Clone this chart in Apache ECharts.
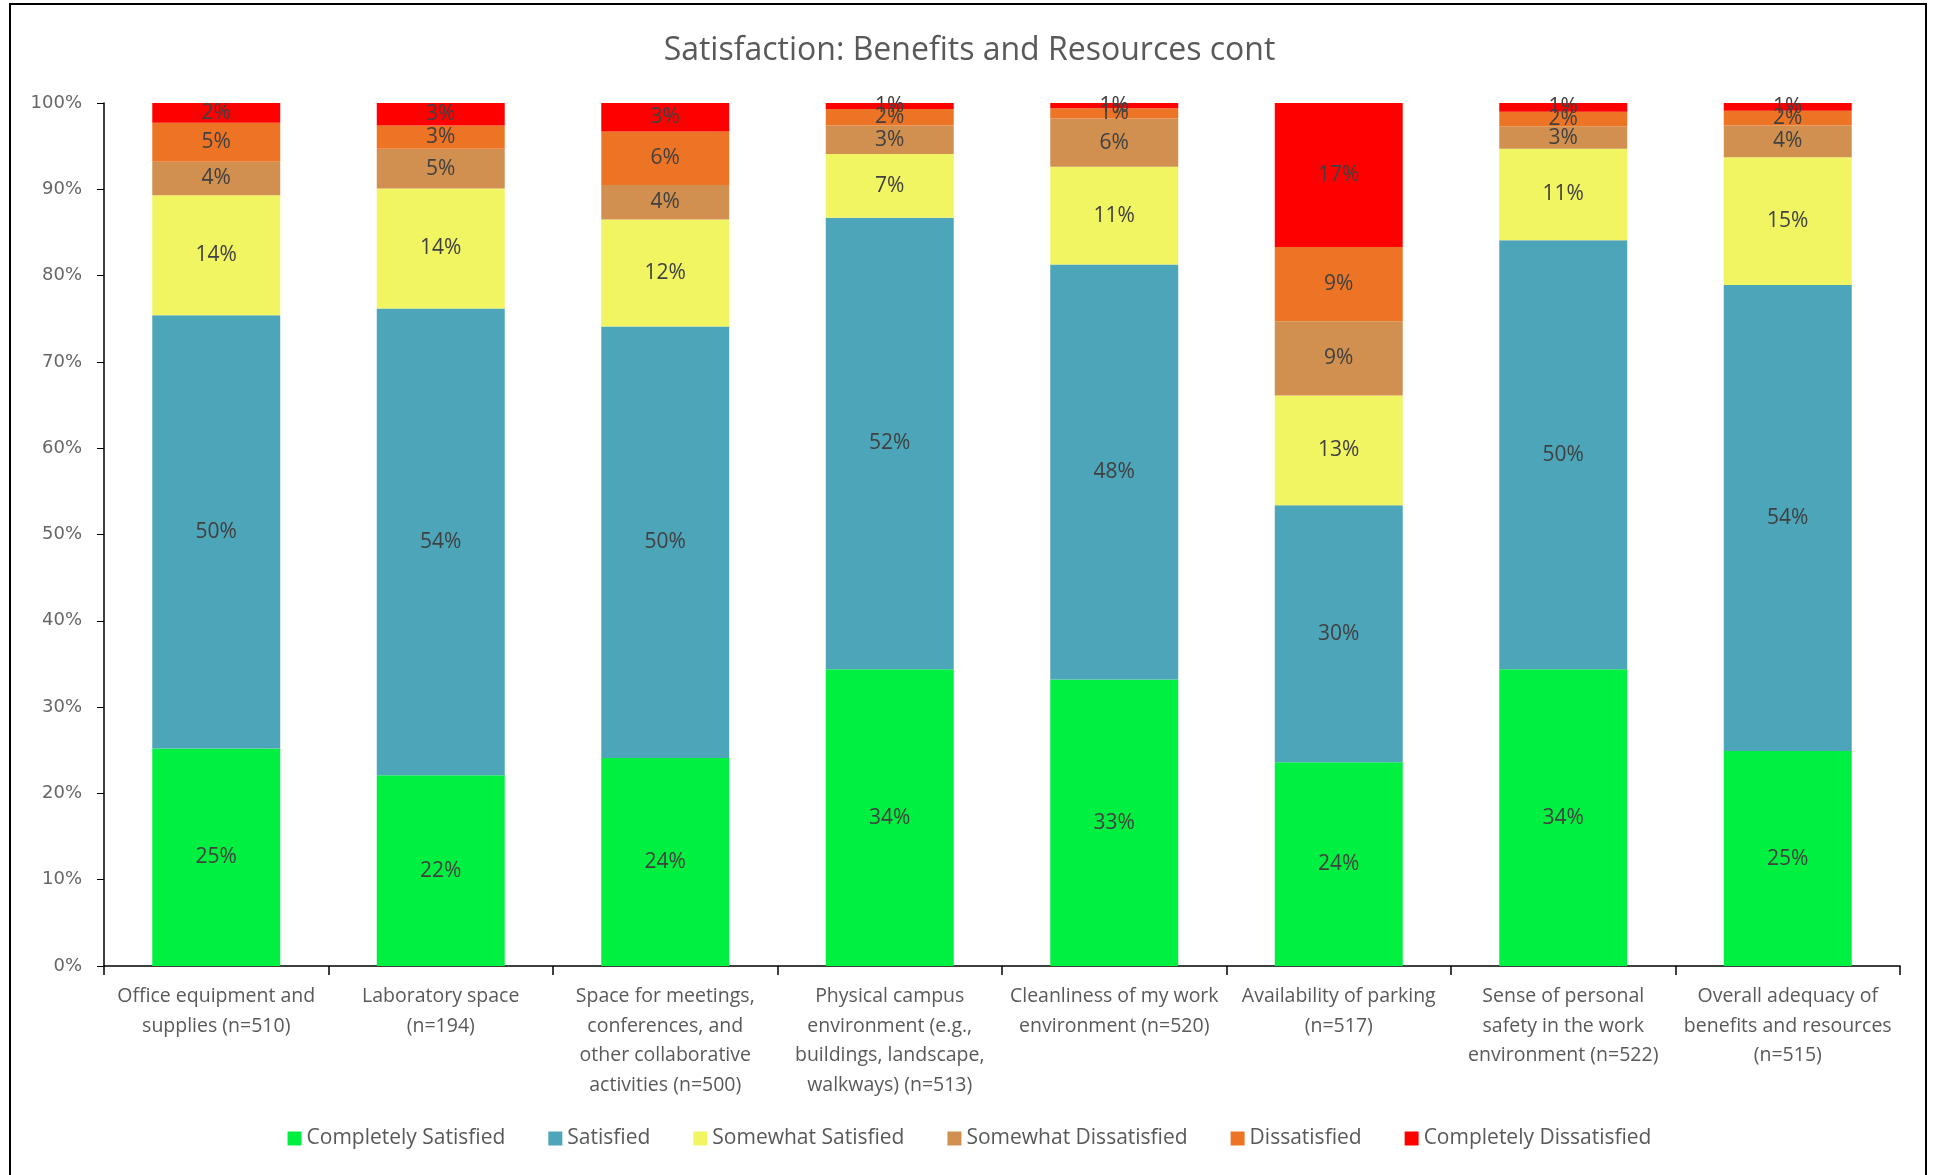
<!DOCTYPE html>
<html>
<head>
<meta charset="utf-8">
<script src="https://cdn.jsdelivr.net/npm/echarts@6/dist/echarts.min.js"></script>
<style>
html,body{margin:0;padding:0;background:#fff;}
#main{width:1939px;height:1175px;}
</style>
</head>
<body>
<div id="main"></div>
<script>
const categories = [
  "Office equipment and\nsupplies (n=510)",
  "Laboratory space\n(n=194)",
  "Space for meetings,\nconferences, and\nother collaborative\nactivities (n=500)",
  "Physical campus\nenvironment (e.g.,\nbuildings, landscape,\nwalkways) (n=513)",
  "Cleanliness of my work\nenvironment (n=520)",
  "Availability of parking\n(n=517)",
  "Sense of personal\nsafety in the work\nenvironment (n=522)",
  "Overall adequacy of\nbenefits and resources\n(n=515)"
];
const seriesNames = ["Completely Satisfied","Satisfied","Somewhat Satisfied","Somewhat Dissatisfied","Dissatisfied","Completely Dissatisfied"];
const completelySatisfied    = [25.2, 22.1, 24.1, 34.4, 33.2, 23.6, 34.4, 24.9];
const satisfied              = [50.2, 54.1, 50.0, 52.3, 48.1, 29.8, 49.7, 54.0];
const somewhatSatisfied      = [13.9, 13.9, 12.4,  7.4, 11.3, 12.7, 10.6, 14.8];
const somewhatDissatisfied   = [ 3.9,  4.6,  4.0,  3.3,  5.6,  8.6,  2.6,  3.7];
const dissatisfied           = [ 4.5,  2.7,  6.2,  1.9,  1.2,  8.6,  1.7,  1.7];
const completelyDissatisfied = [ 2.3,  2.6,  3.3,  0.7,  0.6, 16.7,  1.0,  0.9];
const yTicks = [0,10,20,30,40,50,60,70,80,90,100];

const colors = ["#00F041","#4DA5BA","#F2F562","#D1904F","#EC7424","#FF0000"];
const seriesData = [completelySatisfied, satisfied, somewhatSatisfied, somewhatDissatisfied, dissatisfied, completelyDissatisfied];
const FONT = "Open Sans";

const chart = echarts.init(document.getElementById('main'));
chart.setOption({
  animation: false,
  backgroundColor: '#fff',
  title: {
    text: 'Satisfaction: Benefits and Resources cont',
    left: 'center', top: 30,
    textStyle: {fontFamily: FONT, fontSize: 32, fontWeight: 'normal', color: '#595959'}
  },
  graphic: [{
    type: 'rect', shape: {x: 10, y: 4, width: 1916, height: 1200},
    style: {fill: 'none', stroke: '#000', lineWidth: 2}, silent: true
  }],
  legend: {
    data: seriesNames, bottom: 21, left: 'center',
    itemWidth: 14, itemHeight: 14, itemGap: 43, icon: 'rect',
    textStyle: {fontFamily: FONT, fontSize: 21, color: '#595959'}
  },
  grid: {left: 104, right: 39, top: 103, bottom: 209, containLabel: false},
  xAxis: {
    type: 'category', data: categories,
    axisLine: {lineStyle: {color: '#000', width: 1.5}},
    axisTick: {show: true, alignWithLabel: false, length: 9, lineStyle: {color: '#000', width: 1.5}},
    axisLabel: {interval: 0, fontFamily: FONT, fontSize: 19.5, color: '#595959', lineHeight: 29.5, margin: 16}
  },
  yAxis: {
    type: 'value', min: 0, max: 100, interval: 10,
    axisLine: {show: true, lineStyle: {color: '#000', width: 1.5}},
    axisTick: {show: true, length: 7, lineStyle: {color: '#000'}},
    splitLine: {show: false},
    axisLabel: {fontFamily: 'DejaVu Sans', fontSize: 18, color: '#666666', margin: 22,
      formatter: v => yTicks.includes(v) ? v + '%' : ''}
  },
  series: seriesNames.map((n, i) => ({
    name: n, type: 'bar', stack: 'total', barWidth: '57%',
    data: seriesData[i],
    itemStyle: {color: colors[i]},
    label: {show: true, position: 'inside', fontFamily: FONT, fontSize: 21, color: '#404040',
      formatter: p => Math.round(p.value) + '%'}
  }))
});
</script>
</body>
</html>
